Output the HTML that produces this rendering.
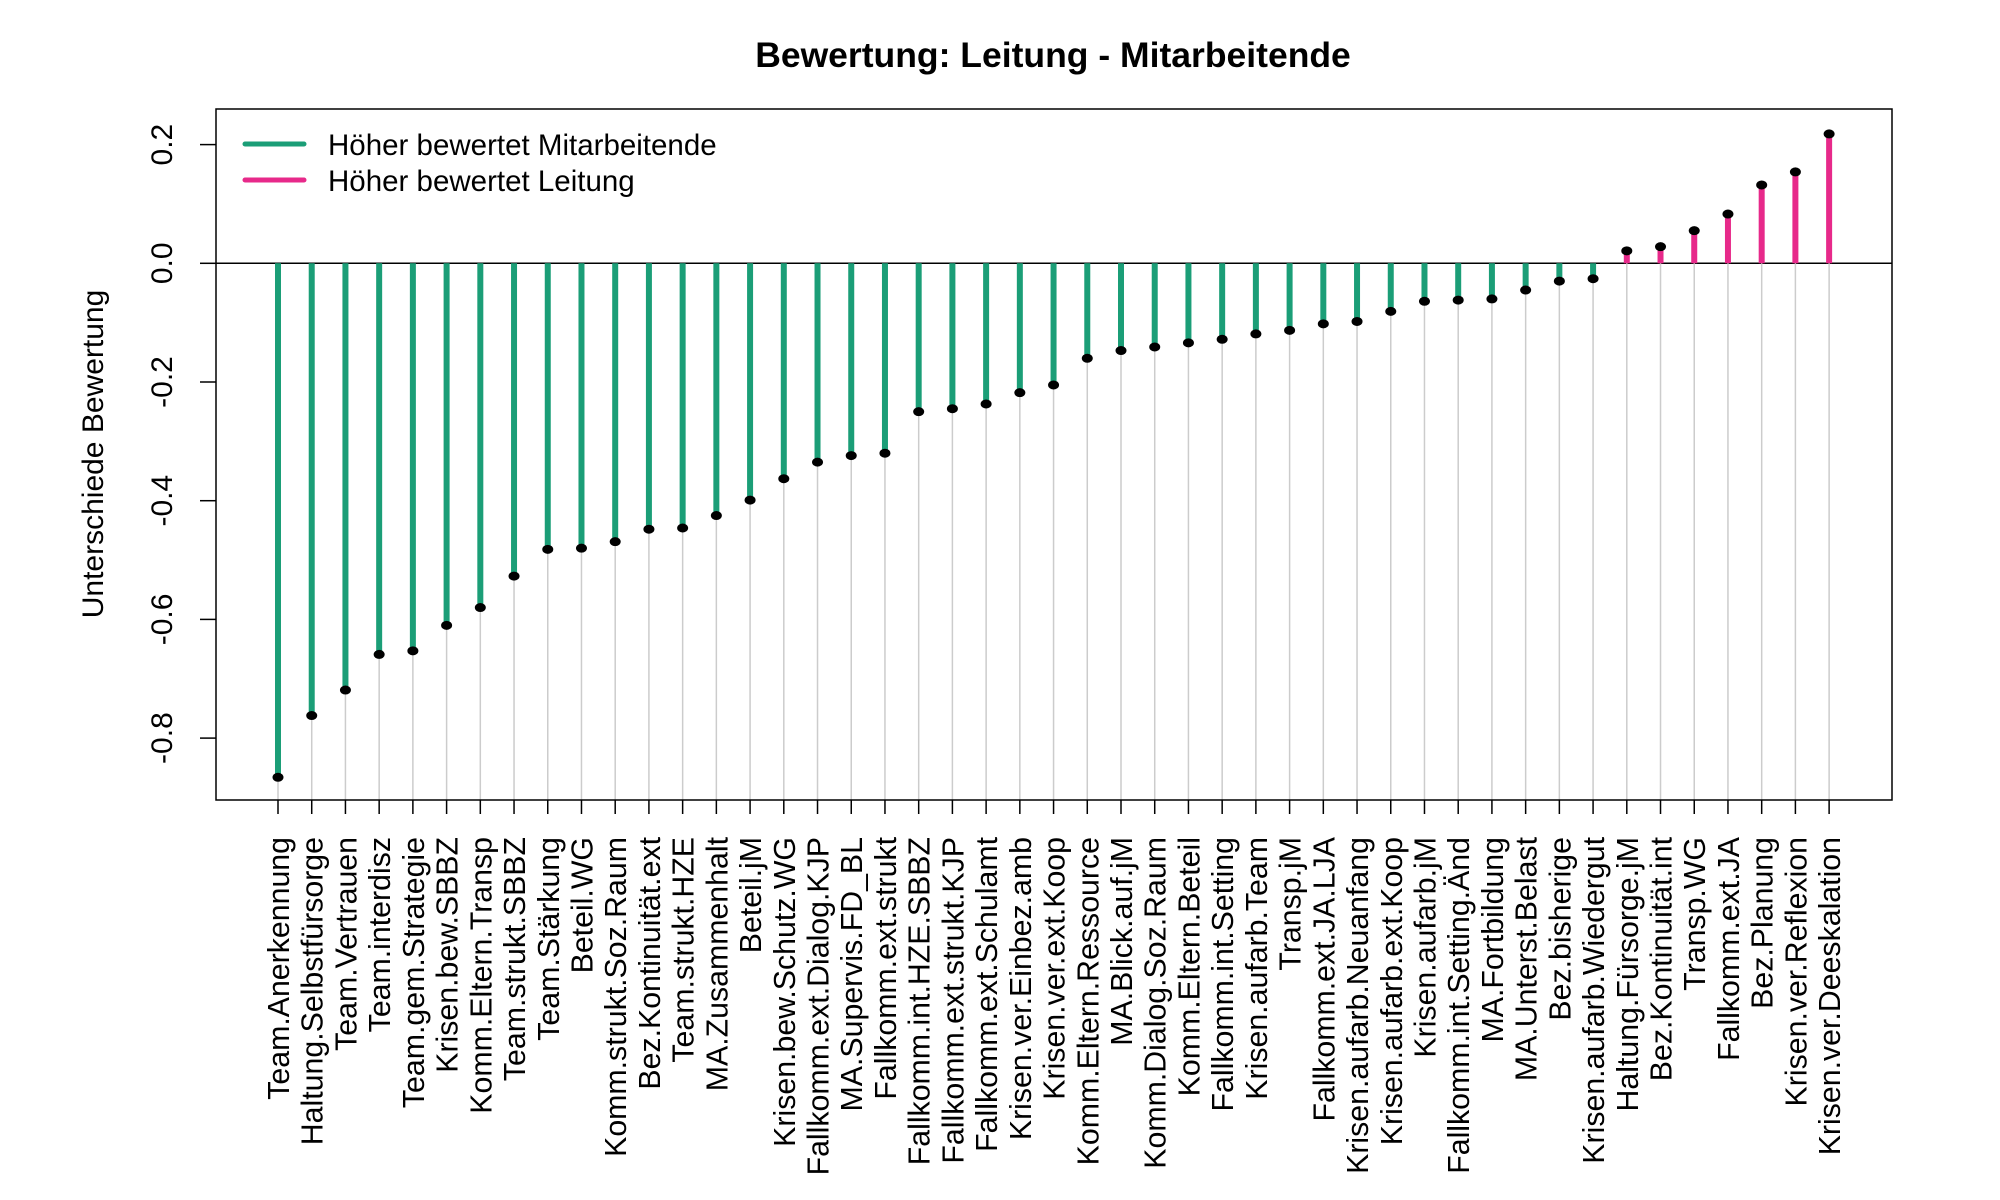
<!DOCTYPE html>
<html><head><meta charset="utf-8"><style>
html,body{margin:0;padding:0;background:#fff;}
svg{display:block;font-family:"Liberation Sans",Arial,sans-serif;}
</style></head><body>
<svg id="chart" width="2000" height="1200" viewBox="0 0 2000 1200" xmlns="http://www.w3.org/2000/svg">
<text x="1053" y="67" text-anchor="middle" font-size="35.5" font-weight="bold">Bewertung: Leitung - Mitarbeitende</text>
<text transform="translate(103,454) rotate(-90)" text-anchor="middle" font-size="30">Unterschiede Bewertung</text>
<g id="grid"></g><g id="stems"></g><g id="pts"></g><g id="yax"></g><g id="xax"></g>
<rect x="216" y="109" width="1676" height="691" fill="none" stroke="#000" stroke-width="1.5"/>
<g>
<line x1="245" y1="144" x2="304" y2="144" stroke="#1b9e77" stroke-width="5" stroke-linecap="round"/>
<text x="328" y="155" font-size="29.5">Höher bewertet Mitarbeitende</text>
<line x1="245" y1="180" x2="304" y2="180" stroke="#e7298a" stroke-width="5" stroke-linecap="round"/>
<text x="328" y="191" font-size="29.5">Höher bewertet Leitung</text>
</g>
</svg>
<script>
const categories = ["Team.Anerkennung","Haltung.Selbstfürsorge","Team.Vertrauen","Team.interdisz","Team.gem.Strategie","Krisen.bew.SBBZ","Komm.Eltern.Transp","Team.strukt.SBBZ","Team.Stärkung","Beteil.WG","Komm.strukt.Soz.Raum","Bez.Kontinuität.ext","Team.strukt.HZE","MA.Zusammenhalt","Beteil.jM","Krisen.bew.Schutz.WG","Fallkomm.ext.Dialog.KJP","MA.Supervis.FD_BL","Fallkomm.ext.strukt","Fallkomm.int.HZE.SBBZ","Fallkomm.ext.strukt.KJP","Fallkomm.ext.Schulamt","Krisen.ver.Einbez.amb","Krisen.ver.ext.Koop","Komm.Eltern.Ressource","MA.Blick.auf.jM","Komm.Dialog.Soz.Raum","Komm.Eltern.Beteil","Fallkomm.int.Setting","Krisen.aufarb.Team","Transp.jM","Fallkomm.ext.JA.LJA","Krisen.aufarb.Neuanfang","Krisen.aufarb.ext.Koop","Krisen.aufarb.jM","Fallkomm.int.Setting.Änd","MA.Fortbildung","MA.Unterst.Belast","Bez.bisherige","Krisen.aufarb.Wiedergut","Haltung.Fürsorge.jM","Bez.Kontinuität.int","Transp.WG","Fallkomm.ext.JA","Bez.Planung","Krisen.ver.Reflexion","Krisen.ver.Deeskalation"];
const values = [-0.866,-0.762,-0.719,-0.659,-0.653,-0.610,-0.580,-0.527,-0.482,-0.480,-0.469,-0.448,-0.446,-0.425,-0.399,-0.363,-0.335,-0.324,-0.320,-0.250,-0.245,-0.237,-0.218,-0.205,-0.160,-0.147,-0.141,-0.134,-0.128,-0.119,-0.113,-0.102,-0.098,-0.081,-0.064,-0.062,-0.060,-0.045,-0.030,-0.026,0.021,0.028,0.055,0.083,0.132,0.154,0.218];
const yTicks = [0.2,0.0,-0.2,-0.4,-0.6,-0.8];
const yTickLabels = ["0.2","0.0","-0.2","-0.4","-0.6","-0.8"];

const NS="http://www.w3.org/2000/svg";
const plotBottom=800, plotLeft=216, plotRight=1892;
function yScale(v){return 263.3 - v*593.5;}
function xScale(i){return 278 + i*33.72;}
function mk(tag,attrs,parent){const e=document.createElementNS(NS,tag);for(const k in attrs)e.setAttribute(k,attrs[k]);document.getElementById(parent).appendChild(e);return e;}

let z=mk('line',{x1:plotLeft,x2:plotRight,y1:yScale(0),y2:yScale(0),stroke:'#000','stroke-width':1.5},'grid');



yTicks.forEach((t,i)=>{
  const y=yScale(t);
  const tk=mk('line',{x1:plotLeft-16,x2:plotLeft,y1:y,y2:y,stroke:'#000','stroke-width':1.5},'yax');
  
  
  const tx=mk('text',{transform:`translate(172,${y}) rotate(-90)`,'text-anchor':'middle','font-size':30},'yax');
  tx.textContent=yTickLabels[i];
  
  
});

categories.forEach((c,i)=>{
  const x=xScale(i), v=values[i], y=yScale(v), y0=yScale(0);
  const g=mk('line',{x1:x,x2:x,y1:Math.max(y,y0),y2:plotBottom,stroke:'#cccccc','stroke-width':1.5},'grid');
  
  
  const s=mk('line',{x1:x,x2:x,y1:y0,y2:y,stroke:v<0?'#1b9e77':'#e7298a','stroke-width':6},'stems');
  
  
  const p=mk('ellipse',{cx:x,cy:y,rx:5.5,ry:4.5,fill:'#000'},'pts');
  
  
  const tk=mk('line',{x1:x,x2:x,y1:plotBottom,y2:plotBottom+14,stroke:'#000','stroke-width':1.5},'xax');
  
  
  const t=mk('text',{transform:`translate(${x+11},837) rotate(-90)`,'text-anchor':'end','font-size':30.3},'xax');
  t.textContent=c;
  
  
});
</script>
</body></html>
